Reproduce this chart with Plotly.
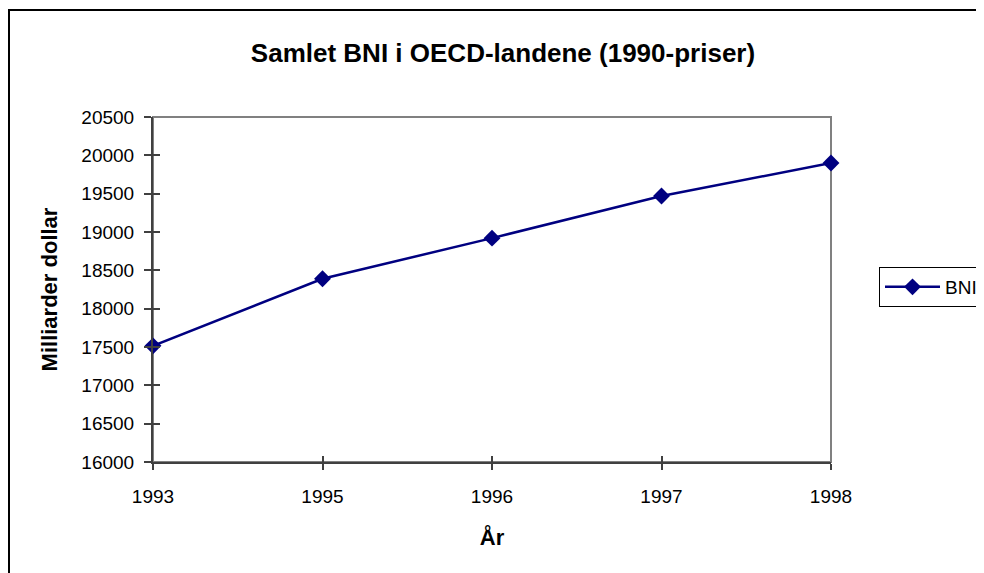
import plotly.graph_objects as go

years = ["1993", "1995", "1996", "1997", "1998"]
bni = [17515, 18390, 18920, 19470, 19900]
series_name = "BNI"
title_text = "Samlet BNI i OECD-landene (1990-priser)"
x_title = "År"
y_title = "Milliarder dollar"

FONT = "Liberation Sans, Arial, sans-serif"
W, H = 984, 573
OFF = 8  # page body offset
L, T = 153 - OFF, 117 - OFF
R = W - (831 - OFF)
B = H - (462 - OFF)
pw = W - L - R
ph = H - T - B

fig = go.Figure()
fig.add_trace(go.Scatter(
    x=years, y=bni, name=series_name, mode="lines+markers",
    line=dict(color="#000080", width=2.5),
    marker=dict(symbol="diamond", size=13, color="#000080"),
    cliponaxis=False,
))
# invisible duplicate for crossing ticks
fig.add_trace(go.Scatter(
    x=years, y=bni, xaxis="x2", yaxis="y2", mode="lines",
    line=dict(width=0), opacity=0, showlegend=False, hoverinfo="skip",
))

def px_x(px):  # reference-screen px -> paper
    return (px - OFF - L) / pw

def px_y(py):
    return (H - B - (py - OFF)) / ph

fig.update_layout(
    width=W, height=H,
    margin=dict(l=L, r=R, t=T, b=B, autoexpand=False),
    paper_bgcolor="white", plot_bgcolor="white",
    font=dict(family=FONT, size=18, color="black"),
    title=dict(text="<b>" + title_text + "</b>", x=px_x(503), xanchor="center",
               xref="paper", y=1 - (53 - OFF) / H, yanchor="middle",
               font=dict(family=FONT, size=26, color="black")),
    xaxis=dict(type="category", range=[0, 4], showgrid=False, showline=True,
               linecolor="#404040", linewidth=2, ticks="outside", ticklen=6,
               tickcolor="#404040", tickwidth=1.5, zeroline=False,
               ticklabelstandoff=10,
               title=dict(text="<b>" + x_title + "</b>", standoff=24),
               tickfont=dict(family=FONT, size=19, color="black")),
    yaxis=dict(range=[16000, 20500], dtick=500, tick0=16000, showgrid=False,
               tickformat="d",
               showline=True, linecolor="#404040", linewidth=2,
               ticks="outside", ticklen=7, tickcolor="#404040", tickwidth=1.5,
               zeroline=False, ticklabelstandoff=6,
               title=dict(text="<b>" + y_title + "</b>", standoff=18),
               tickfont=dict(family=FONT, size=19, color="black")),
    xaxis2=dict(type="category", range=[0, 4], overlaying="x", side="bottom",
                showgrid=False, showline=False, ticks="inside", ticklen=6,
                tickcolor="#404040", tickwidth=1.5, showticklabels=False,
                zeroline=False, matches="x"),
    yaxis2=dict(range=[16000, 20500], dtick=500, tick0=16000, overlaying="y",
                side="left", showgrid=False, showline=False, ticks="inside",
                ticklen=7, tickcolor="#404040", tickwidth=1.5,
                showticklabels=False, zeroline=False),
    legend=dict(x=px_x(879), xanchor="left", y=px_y(287),
                yanchor="middle", bordercolor="black", borderwidth=1,
                itemwidth=55,
                font=dict(family=FONT, size=19, color="black"), bgcolor="white"),
    shapes=[
        dict(type="rect", xref="paper", yref="paper", x0=0, x1=1, y0=0, y1=1,
             line=dict(color="#808080", width=2), layer="below"),
        dict(type="rect", xref="paper", yref="paper",
             x0=px_x(9), x1=px_x(W + 40),
             y0=px_y(H + 40), y1=px_y(10),
             line=dict(color="black", width=2), layer="below"),
    ],
)

fig.write_html("out.html")
